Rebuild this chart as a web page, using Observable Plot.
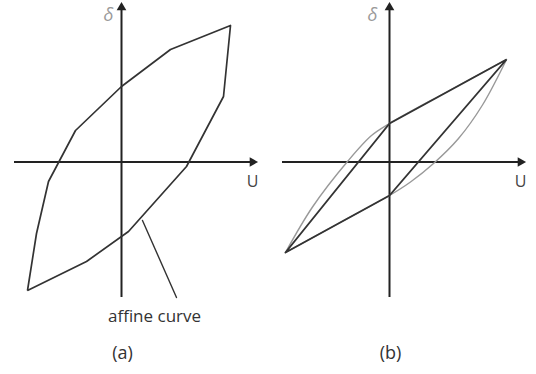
<!DOCTYPE html>
<html>
<head>
<meta charset="utf-8">
<script src="https://cdn.jsdelivr.net/npm/d3@7"></script>
<script src="https://cdn.jsdelivr.net/npm/@observablehq/plot@0.6"></script>
<style>
  html, body { margin: 0; padding: 0; background: #fff; }
</style>
</head>
<body>
<div id="chart"></div>
<script>
// Panels
const panels = ["a", "b"];
const panelLabels = ["(a)", "(b)"];

// Panel (a): polygonal hysteresis loop (U, δ)
const aU = [10.9, 4.9, 0, -4.6, -7.3, -8.5, -9.4, -3.5, 0.7, 6.5, 10.2, 10.9];
const aD = [13.65, 11.25, 7.55, 3.15, -1.95, -7.15, -12.85, -9.95, -6.95, -0.45, 6.55, 13.65];

// Panel (b): parallelogram loop
const bU = [-10.4, 0, 11.7, 0, -10.4];
const bD = [-9.05, 3.85, 10.25, -3.35, -9.05];

// Panel (b): smooth loop, upper and lower branches
const upU = [-10.4, -7.7, -4.2, -1.8, 0, 5.8, 11.7];
const upD = [-9.05, -4.5, 0.05, 2.65, 3.85, 7.05, 10.25];
const loU = [11.7, 9.3, 6.9, 4.4, 2.1, 0, -5.2, -10.4];
const loD = [10.25, 5.7, 2.35, -0.15, -2.0, -3.35, -6.2, -9.05];

// Axis extents
const uAxis = [-10.7, 13.6];
const dAxis = [-13.55, 15.95];

// Leader line for "affine curve"
const leaderU = [2.1, 5.5];
const leaderD = [-5.85, -13.55];

const toRows = (panel, us, ds, z) => us.map((u, i) => ({panel, u, d: ds[i], z}));

const loopA = toRows("a", aU, aD, "a");
const para = toRows("b", bU, bD, "p");
const smooth = [...toRows("b", upU, upD, "up"), ...toRows("b", loU, loD, "lo")];
const leader = toRows("a", leaderU, leaderD, "l");
const capRows = panels.map((p, i) => ({panel: p, text: panelLabels[i]}));

const chart = Plot.plot({
  width: 536,
  height: 374,
  margin: 0,
  style: {fontFamily: "'Open Sans', sans-serif", background: "#fff"},
  fx: {domain: panels, padding: 0, axis: null},
  x: {domain: [-12.1, 14.7], axis: null},
  y: {domain: [-21.25, 16.15], axis: null},
  marks: [
    // axes
    Plot.ruleY(panels, {fx: d => d, y: 0, x1: uAxis[0], x2: uAxis[1] - 0.4, stroke: "#222", strokeWidth: 2}),
    Plot.ruleX(panels, {fx: d => d, x: 0, y1: dAxis[0], y2: dAxis[1] - 0.4, stroke: "#222", strokeWidth: 2}),
    Plot.dot(panels, {fx: d => d, x: uAxis[1], y: 0, dx: -5, symbol: "triangle", r: 3.6, fill: "#222", stroke: "none", rotate: 90}),
    Plot.dot(panels, {fx: d => d, x: 0, y: dAxis[1], dy: 5, symbol: "triangle", r: 3.6, fill: "#222", stroke: "none"}),
    // axis labels
    Plot.text(panels, {fx: d => d, x: 13.1, y: -1.95, text: () => "U", fill: "#444", fontSize: 16}),
    Plot.text(panels, {fx: d => d, x: d => d === "a" ? -1.3 : -1.7, y: 14.7, text: () => "δ", fill: "#999", fontSize: 18, fontStyle: "italic"}),
    // panel (a)
    Plot.line(loopA, {fx: "panel", x: "u", y: "d", stroke: "#333", strokeWidth: 1.7, strokeLinejoin: "miter"}),
    Plot.line(leader, {fx: "panel", x: "u", y: "d", stroke: "#333", strokeWidth: 1.4}),
    Plot.text(["affine curve"], {fx: () => "a", x: 3.3, y: -15.5, text: d => d, fill: "#333", fontSize: 17}),
    // panel (b)
    Plot.line(smooth, {fx: "panel", x: "u", y: "d", z: "z", stroke: "#999", strokeWidth: 1.4, curve: "catmull-rom"}),
    Plot.line(para, {fx: "panel", x: "u", y: "d", stroke: "#333", strokeWidth: 1.9, strokeLinejoin: "miter"}),
    // captions
    Plot.text(capRows, {fx: "panel", x: 0.1, y: -19.15, text: "text", fill: "#333", fontSize: 18})
  ]
});

document.getElementById("chart").appendChild(chart);
</script>
</body>
</html>
